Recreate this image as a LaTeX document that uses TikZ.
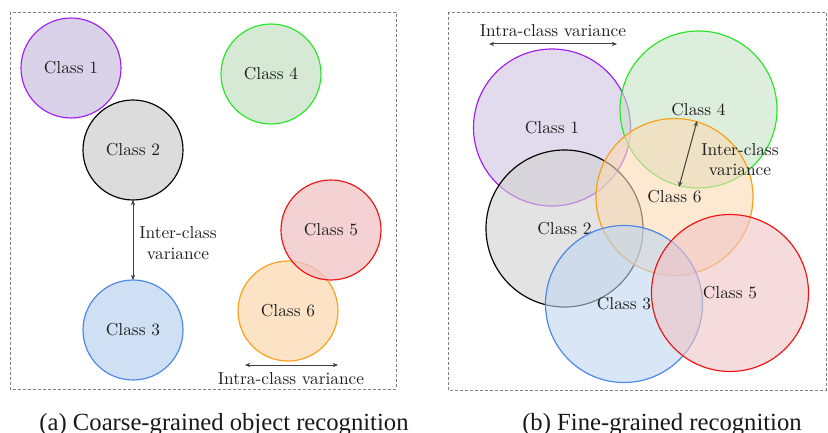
\documentclass[tikz,border=0pt]{standalone}
\usepackage{fontspec}
\newfontfamily\capfont{Liberation Serif}
\usetikzlibrary{arrows.meta}

% class colours: border (d) and fill (f)
\definecolor{c1d}{RGB}{160,32,240}  \definecolor{c1f}{RGB}{206,195,226}
\definecolor{c2d}{RGB}{0,0,0}       \definecolor{c2f}{RGB}{208,208,208}
\definecolor{c3d}{RGB}{74,134,232}  \definecolor{c3f}{RGB}{191,214,240}
\definecolor{c4d}{RGB}{40,230,40}   \definecolor{c4f}{RGB}{200,226,198}
\definecolor{c5d}{RGB}{240,20,20}   \definecolor{c5f}{RGB}{240,195,198}
\definecolor{c6d}{RGB}{250,160,20}  \definecolor{c6f}{RGB}{251,217,179}

\begin{document}
\begin{tikzpicture}[x=0.6pt,y=-0.6pt,
  lbl/.style={font=\fontsize{10.4}{12.5}\selectfont, text=black!88, align=center},
  cls/.style 2 args={circle, draw=#1, fill=#2, fill opacity=0.75, text opacity=1,
    line width=0.7pt, inner sep=0pt, outer sep=0pt, lbl},
  small/.style={minimum size=60pt},
  big/.style={minimum size=94.2pt, fill opacity=0.6},
  panel/.style={draw=black!50, line width=0.5pt, dash pattern=on 1.8pt off 1.2pt},
  var/.style={draw=black!75, line width=0.6pt,
    {Stealth[length=3.2pt,width=2.6pt]}-{Stealth[length=3.2pt,width=2.6pt]}},
  captext/.style={font=\capfont\fontsize{14.8}{17}\selectfont, anchor=base, text=black!90}]

\useasboundingbox (0,0) rectangle (828,433);

% frames of the two panels
\draw[panel] (10,12) rectangle (396,389);
\draw[panel] (448,12) rectangle (826,390);

% ---- (a) coarse-grained: well separated classes
\node[cls={c1d}{c1f}, small] (a1) at (71,68)   {Class 1};
\node[cls={c2d}{c2f}, small] (a2) at (133,150) {Class 2};
\node[cls={c3d}{c3f}, small] (a3) at (133,330) {Class 3};
\node[cls={c4d}{c4f}, small] (a4) at (271,74)  {Class 4};
\node[cls={c6d}{c6f}, small] (a6) at (288,311) {Class 6};
\node[cls={c5d}{c5f}, small] (a5) at (331,230) {Class 5};

\draw[var] (a2) -- (a3);
\node[lbl] (ainter) at (178,243) {Inter-class\\variance};

\coordinate (ia1) at (245,365);
\coordinate (ia2) at (338,365);
\draw[var] (ia1) -- (ia2);
\node[lbl] (aintra) at (291,379) {Intra-class variance};

% ---- (b) fine-grained: large, overlapping classes
\node[cls={c1d}{c1f}, big] (b1) at (552,127.5) {Class 1};
\node[cls={c4d}{c4f}, big] (b4) at (698.5,109.5) {Class 4};
\node[cls={c2d}{c2f}, big] (b2) at (564.5,228.5) {Class 2};
\node[cls={c6d}{c6f}, big] (b6) at (674.5,197) {Class 6};
\node[cls={c3d}{c3f}, big] (b3) at (624,304) {Class 3};
\node[cls={c5d}{c5f}, big] (b5) at (730,293) {Class 5};

\coordinate (ib1) at (489,44);
\coordinate (ib2) at (617,44);
\draw[var] (ib1) -- (ib2);
\node[lbl] (bintra) at (553,31) {Intra-class variance};

\coordinate (eb1) at (697,121);
\coordinate (eb2) at (679,187);
\draw[var] (eb1) -- (eb2);
\node[lbl] (binter) at (740,159.5) {Inter-class\\variance};

% captions
\node[captext] (capa) at (224,430) {(a) Coarse-grained object recognition};
\node[captext] (capb) at (662,430) {(b) Fine-grained recognition};
\end{tikzpicture}
\end{document}
